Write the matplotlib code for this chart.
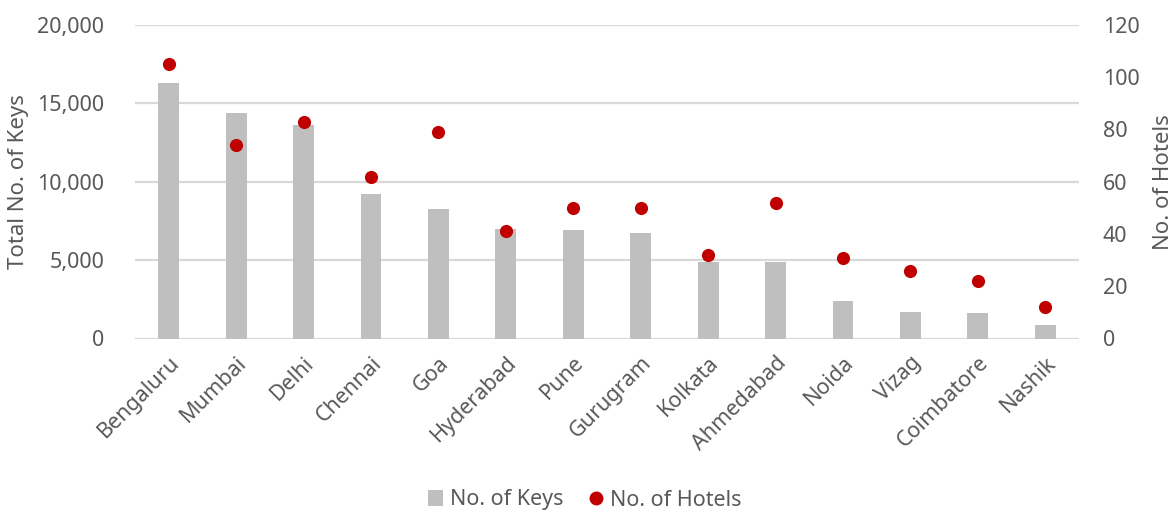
import matplotlib
matplotlib.use("Agg")
import matplotlib.pyplot as plt
from matplotlib.ticker import FuncFormatter, MultipleLocator
from matplotlib.lines import Line2D
from matplotlib.patches import Patch

plt.rcParams['font.family'] = ['Noto Sans', 'DejaVu Sans']

cities = ["Bengaluru", "Mumbai", "Delhi", "Chennai", "Goa", "Hyderabad", "Pune",
          "Gurugram", "Kolkata", "Ahmedabad", "Noida", "Vizag", "Coimbatore", "Nashik"]
keys = [16300, 14400, 13600, 9200, 8250, 7000, 6900, 6700, 4900, 4900, 2400, 1700, 1600, 850]
hotels = [105, 74, 83, 62, 79, 41, 50, 50, 32, 52, 31, 26, 22, 12]

TEXT = "#595959"
GRID = "#D9D9D9"
BAR = "#BFBFBF"
DOT = "#C00000"

fig = plt.figure(figsize=(11.76, 5.14), dpi=100)
ax = fig.add_axes([135 / 1176, 1 - 338.5 / 514, (1079 - 135) / 1176, (338.5 - 25) / 514])
ax2 = ax.twinx()

x = list(range(len(cities)))
ax.bar(x, keys, width=0.31, color=BAR, zorder=2)
ax2.scatter(x, hotels, s=90, color=DOT, zorder=3, linewidths=0)

ax.set_xlim(-0.5, len(cities) - 0.5)
ax.set_ylim(0, 20000)
ax2.set_ylim(0, 120)
ax.yaxis.set_major_locator(MultipleLocator(5000))
ax2.yaxis.set_major_locator(MultipleLocator(20))
ax.yaxis.set_major_formatter(FuncFormatter(lambda v, p: f"{int(v):,}"))

ax.grid(axis='y', color=GRID, linewidth=1.6, zorder=0)
ax.set_axisbelow(True)
for a in (ax, ax2):
    for s in a.spines.values():
        s.set_visible(False)
    a.tick_params(length=0, labelsize=15.5, colors=TEXT)

ax.tick_params(axis='y', pad=22)
ax2.tick_params(axis='y', pad=17)
ax.set_xticks(x)
ax.set_xticklabels(cities, rotation=45, ha='right', rotation_mode='anchor')
ax.tick_params(axis='x', pad=10)

ax.set_ylabel("Total No. of Keys", fontsize=16, color=TEXT, labelpad=6)
ax2.set_ylabel("No. of Hotels", fontsize=16, color=TEXT, labelpad=10)

handles = [Patch(facecolor=BAR, edgecolor='none', label="No. of Keys"),
           Line2D([], [], marker='o', linestyle='none', markersize=10,
                  markerfacecolor=DOT, markeredgewidth=0, label="No. of Hotels")]
leg = fig.legend(handles=handles, loc='center', bbox_to_anchor=(585 / 1176, 1 - 500 / 514),
                 ncol=2, frameon=False, fontsize=15.5, handlelength=0.7, handletextpad=0.3,
                 columnspacing=1.2)
for t in leg.get_texts():
    t.set_color(TEXT)

fig.savefig("out.png", dpi=100)
